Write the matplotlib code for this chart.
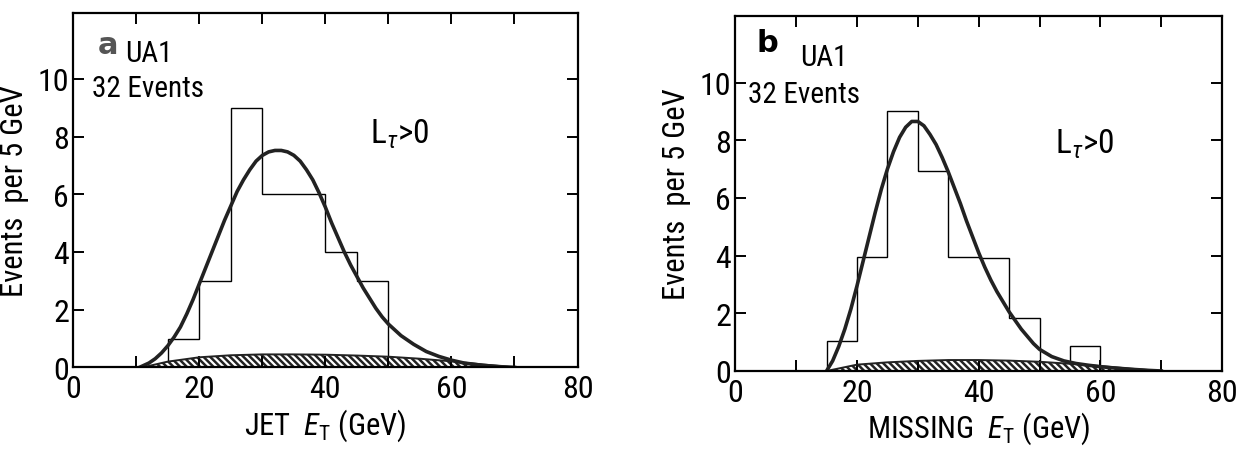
import matplotlib
matplotlib.use("Agg")
import matplotlib.pyplot as plt
from matplotlib import font_manager

# fuente estrecha parecida a la del original
instaladas = {f.name for f in font_manager.fontManager.ttflist}
fuente = 'DejaVu Sans'
for nombre in ['Roboto Condensed', 'Archivo Narrow', 'PT Sans Narrow', 'Barlow Condensed', 'Arimo']:
    if nombre in instaladas:
        fuente = nombre
        break

plt.rcParams['font.family'] = [fuente, 'DejaVu Sans']
plt.rcParams['mathtext.fontset'] = 'custom'
plt.rcParams['mathtext.rm'] = fuente
plt.rcParams['mathtext.it'] = fuente + ':italic'
plt.rcParams['hatch.linewidth'] = 1.8

# panel a: jet ET
bordes = [15, 20, 25, 30, 35, 40, 45, 50]
eventos_a = [1, 3, 9, 6, 6, 4, 3]
curva_a_x = [10.5, 12, 13, 14, 15, 16, 17, 18, 19, 20, 21, 22, 23, 24, 25, 26, 27, 28, 29, 30, 31, 32, 33, 34, 35,
             36, 37, 38, 39, 40, 41, 42, 43, 44, 45, 46, 47, 48, 49, 50, 52, 54, 56, 58, 60, 62, 65, 68, 70]
curva_a_y = [0.0, 0.15, 0.3, 0.5, 0.75, 1.05, 1.4, 1.85, 2.35, 2.9, 3.45, 4.0, 4.55, 5.1, 5.6, 6.1, 6.5, 6.85, 7.15,
             7.35, 7.47, 7.52, 7.52, 7.47, 7.35, 7.15, 6.85, 6.5, 6.05, 5.55, 5.0, 4.5, 4.0, 3.55, 3.15, 2.75, 2.4,
             2.05, 1.75, 1.5, 1.1, 0.8, 0.55, 0.38, 0.25, 0.15, 0.07, 0.02, 0.0]
fondo_a_x = [11, 15, 20, 25, 30, 35, 40, 45, 50, 55, 60, 65, 70]
fondo_a_y = [0.0, 0.2, 0.35, 0.42, 0.45, 0.45, 0.44, 0.41, 0.37, 0.3, 0.21, 0.1, 0.0]

# panel b: missing ET
bordes_b = [15, 20, 25, 30, 35, 40, 45, 50, 55, 60]
eventos_b = [1.05, 3.95, 9, 6.95, 3.95, 3.9, 1.85, 0, 0.85]
curva_b_x = [15, 16, 17, 18, 19, 20, 21, 22, 23, 24, 25, 26, 27, 28, 29, 30, 31, 32, 33, 34, 35, 36, 37, 38, 39,
             40, 41, 42, 43, 44, 45, 46, 47, 48, 49, 50, 52, 54, 56, 58, 60, 62, 65, 68, 70]
curva_b_y = [0.0, 0.35, 0.85, 1.45, 2.15, 2.95, 3.8, 4.65, 5.5, 6.3, 7.0, 7.6, 8.1, 8.45, 8.65, 8.65, 8.5, 8.2, 7.85,
             7.4, 6.9, 6.35, 5.8, 5.2, 4.65, 4.1, 3.6, 3.15, 2.75, 2.4, 2.05, 1.75, 1.45, 1.2, 0.95, 0.75, 0.5, 0.35,
             0.26, 0.2, 0.15, 0.11, 0.06, 0.02, 0.0]
fondo_b_x = [15, 20, 25, 30, 35, 40, 45, 50, 55, 60, 65, 70]
fondo_b_y = [0.0, 0.22, 0.3, 0.35, 0.38, 0.38, 0.36, 0.32, 0.25, 0.17, 0.08, 0.0]

fig = plt.figure(figsize=(12.42, 4.52), dpi=100)
ax1 = fig.add_axes([0.059, 0.185, 0.406, 0.785])
ax2 = fig.add_axes([0.592, 0.177, 0.392, 0.785])


def dibujar(ax, bordes, eventos, cx, cy, fx, fy, letra, xlabel, pos):
    ax.stairs(eventos, bordes, color='black', linewidth=1.0, baseline=0)
    ax.fill_between(fx, 0, fy, facecolor='white', edgecolor='#222222', hatch='\\\\\\\\\\', linewidth=0)
    ax.plot(fx, fy, color='#222222', linewidth=1.4)
    ax.plot(cx, cy, color='#222222', linewidth=2.6)
    ax.set_xlim(0, 80)
    ax.set_ylim(0, 12.3)
    for s in ax.spines.values():
        s.set_linewidth(1.6)
    ax.set_xticks([0, 20, 40, 60, 80])
    ax.set_xticks([10, 30, 50, 70], minor=True)
    ax.set_yticks([0, 2, 4, 6, 8, 10])
    ax.tick_params(axis='both', which='both', direction='in', top=True, right=True,
                   length=8, width=1.4, labelsize=23)
    ax.tick_params(axis='x', pad=5)
    ax.tick_params(axis='y', pad=3)
    ax.set_xlabel(xlabel, fontsize=22, labelpad=2)
    ax.set_ylabel('Events  per 5 GeV', fontsize=22, labelpad=6)
    ax.text(pos[0], pos[1], letra, fontsize=22, fontweight='bold', family='DejaVu Sans',
            color='#555555' if letra == 'a' else 'black', ha='center', va='center')
    ax.text(pos[2], pos[3], 'UA1', fontsize=21, ha='left', va='center')
    ax.text(pos[4], pos[5], '32 Events', fontsize=21, ha='left', va='center')
    ax.text(pos[6], pos[7], r'L$_{\mathit{\tau}}$>0', fontsize=24, ha='left', va='center')


dibujar(ax1, bordes, eventos_a, curva_a_x, curva_a_y, fondo_a_x, fondo_a_y,
        'a', r'JET  $\mathit{E}_\mathrm{T}$ (GeV)', (5.5, 11.2, 8.2, 10.9, 3.0, 9.7, 47, 8.1))
dibujar(ax2, bordes_b, eventos_b, curva_b_x, curva_b_y, fondo_b_x, fondo_b_y,
        'b', r'MISSING  $\mathit{E}_\mathrm{T}$ (GeV)', (5.2, 11.4, 10.7, 10.9, 2.1, 9.6, 52.6, 7.9))

fig.savefig('out.png', dpi=100)
